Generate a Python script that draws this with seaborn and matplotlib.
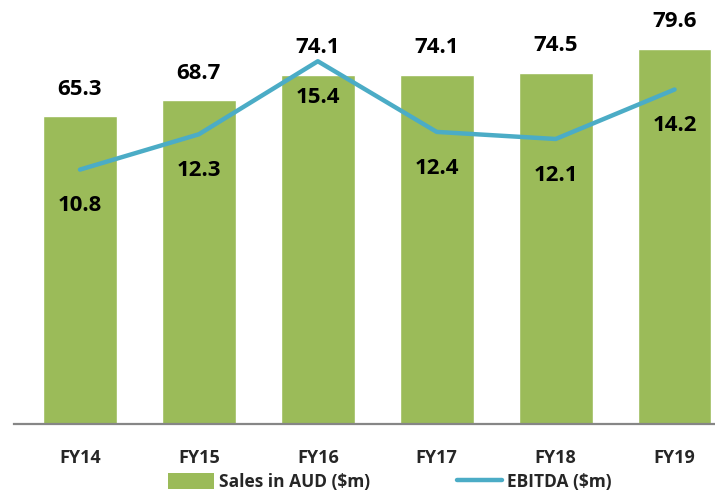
import numpy as np
import pandas as pd
import seaborn as sns
import matplotlib.pyplot as plt
from matplotlib.patches import Patch
from matplotlib.lines import Line2D

# data
years = ['FY14', 'FY15', 'FY16', 'FY17', 'FY18', 'FY19']
sales = [65.3, 68.7, 74.1, 74.1, 74.5, 79.6]
ebitda = [10.8, 12.3, 15.4, 12.4, 12.1, 14.2]

green = '#9BBB59'
blue = '#4BACC6'

sns.set_theme(style='white')
plt.rcParams['font.family'] = ['Open Sans', 'DejaVu Sans']

df = pd.DataFrame({'year': years, 'sales': sales, 'ebitda': ebitda, 'pos': np.arange(len(years))})

fig = plt.figure(figsize=(7.15, 4.96), dpi=100)
ax = fig.add_axes([14 / 715, 1 - 424 / 496, 701 / 715, 424 / 496])

sns.barplot(data=df, x='year', y='sales', color=green, width=0.62, saturation=1, ax=ax)
ax.set_ylim(0, 90)
ax.set_xlim(-0.555, 5.34)

for i, v in enumerate(sales):
    ax.annotate(f'{v:.1f}', (i, v), xytext=(0, 12), textcoords='offset points',
                ha='center', va='bottom', fontsize=16, fontweight='bold', color='black')

ax2 = ax.twinx()
sns.lineplot(data=df, x='pos', y='ebitda', color=blue, linewidth=3.2, ax=ax2)
ax2.set_ylim(0, 18)
ax2.set_xlim(-0.555, 5.34)

for i, v in enumerate(ebitda):
    ax2.annotate(f'{v:.1f}', (i, v), xytext=(0, -26), textcoords='offset points',
                 ha='center', va='center', fontsize=16, fontweight='bold', color='black')

for a in (ax, ax2):
    a.set_xlabel('')
    a.set_ylabel('')
    a.set_yticks([])
    for s in ['left', 'right', 'top']:
        a.spines[s].set_visible(False)
ax2.spines['bottom'].set_visible(False)
ax.spines['bottom'].set_color('#868686')
ax.spines['bottom'].set_linewidth(1.6)

ax.tick_params(axis='x', length=0, pad=18)
for lbl in ax.get_xticklabels():
    lbl.set_fontsize(13)
    lbl.set_fontweight('bold')

handles = [Patch(facecolor=green, edgecolor='none'),
           Line2D([0], [0], color=blue, linewidth=3.2)]
fig.legend(handles, ['Sales in AUD ($m)', 'EBITDA ($m)'], loc='center',
           bbox_to_anchor=(390 / 715, 1 - 482 / 496), ncol=2, frameon=False,
           prop={'size': 12.5, 'weight': 'bold'}, handlelength=2.6, handleheight=1.0,
           columnspacing=5.0, handletextpad=0.3)

fig.savefig('out.png', dpi=100)
